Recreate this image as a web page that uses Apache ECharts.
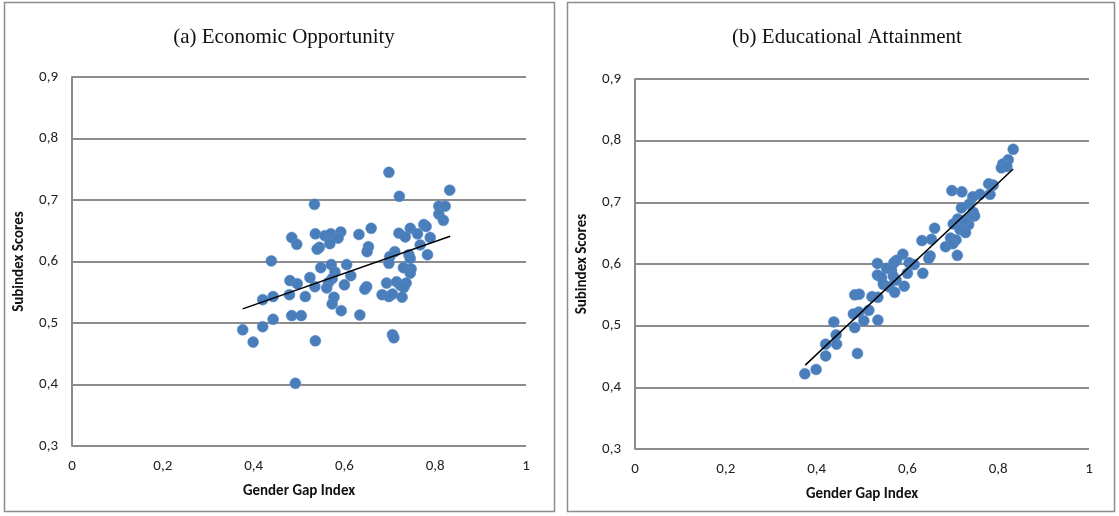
<!DOCTYPE html>
<html><head><meta charset="utf-8">
<script src="https://cdn.jsdelivr.net/npm/echarts@6/dist/echarts.min.js"></script>
<style>html,body{margin:0;padding:0;background:#fff}#c{width:1119px;height:516px}</style>
</head><body><div id="c"></div>
<script>
// (a) Economic Opportunity: [Gender Gap Index, Subindex Score]
const econPoints = [
[0.698,0.745],[0.721,0.706],[0.832,0.716],[0.534,0.693],[0.808,0.690],[0.822,0.690],[0.808,0.677],[0.818,0.667],
[0.775,0.660],[0.780,0.657],[0.745,0.654],[0.659,0.654],[0.720,0.646],[0.734,0.640],[0.761,0.645],[0.789,0.639],
[0.767,0.627],[0.783,0.611],[0.632,0.644],[0.484,0.639],[0.495,0.628],[0.536,0.645],[0.557,0.642],[0.570,0.645],
[0.592,0.648],[0.586,0.638],[0.568,0.629],[0.545,0.623],[0.540,0.620],[0.653,0.624],[0.650,0.616],[0.439,0.601],
[0.711,0.616],[0.700,0.608],[0.742,0.611],[0.745,0.605],[0.698,0.597],[0.571,0.595],[0.605,0.595],[0.548,0.590],
[0.579,0.583],[0.730,0.590],[0.747,0.588],[0.745,0.581],[0.614,0.577],[0.524,0.574],[0.573,0.572],[0.480,0.569],
[0.496,0.564],[0.565,0.566],[0.600,0.562],[0.693,0.565],[0.715,0.567],[0.736,0.565],[0.724,0.561],[0.731,0.558],
[0.535,0.559],[0.561,0.557],[0.649,0.559],[0.645,0.555],[0.420,0.538],[0.443,0.543],[0.479,0.546],[0.514,0.543],
[0.577,0.542],[0.683,0.546],[0.698,0.543],[0.706,0.547],[0.727,0.542],[0.573,0.531],[0.593,0.520],[0.634,0.513],
[0.443,0.506],[0.484,0.512],[0.505,0.512],[0.420,0.494],[0.376,0.489],[0.399,0.469],[0.536,0.471],[0.706,0.481],
[0.709,0.476],[0.492,0.402]
];
const econTrend = [[0.376,0.523],[0.833,0.641]];

// (b) Educational Attainment
const eduPoints = [
[0.833,0.786],[0.822,0.769],[0.810,0.762],[0.807,0.756],[0.819,0.758],[0.779,0.730],[0.789,0.728],[0.782,0.713],
[0.760,0.713],[0.698,0.719],[0.720,0.717],[0.744,0.709],[0.736,0.697],[0.719,0.691],[0.745,0.684],[0.748,0.678],
[0.736,0.675],[0.711,0.673],[0.701,0.665],[0.735,0.664],[0.716,0.656],[0.728,0.651],[0.660,0.658],[0.695,0.642],
[0.707,0.639],[0.653,0.640],[0.632,0.638],[0.684,0.628],[0.700,0.633],[0.710,0.614],[0.650,0.613],[0.647,0.609],
[0.590,0.616],[0.576,0.606],[0.570,0.602],[0.534,0.601],[0.604,0.602],[0.615,0.599],[0.554,0.593],[0.565,0.590],
[0.600,0.585],[0.634,0.585],[0.534,0.582],[0.543,0.578],[0.569,0.580],[0.547,0.567],[0.575,0.574],[0.593,0.564],
[0.560,0.563],[0.572,0.554],[0.484,0.550],[0.494,0.551],[0.522,0.547],[0.535,0.546],[0.515,0.525],[0.493,0.522],
[0.481,0.519],[0.504,0.508],[0.535,0.509],[0.438,0.506],[0.484,0.497],[0.443,0.485],[0.420,0.470],[0.444,0.470],
[0.420,0.451],[0.490,0.455],[0.399,0.429],[0.374,0.422],[0.725,0.670]
];
const eduTrend = [[0.375,0.436],[0.833,0.754]];

const xTicks = ['0','0,2','0,4','0,6','0,8','1'];
const yTicks = ['0,3','0,4','0,5','0,6','0,7','0,8','0,9'];

const fmt = v => String(Math.round(v*10)/10).replace('.', ',');
const gridColor = '#8c8c8c';
const tickFont = {fontFamily:'Carlito, Lato, "Liberation Sans", sans-serif', fontSize:15, color:'#222'};
const nameFont = {fontFamily:'Carlito, Lato, "Liberation Sans", sans-serif', fontSize:15, fontWeight:'bold', color:'#111'};

function xAxis(i){return {gridIndex:i,type:'value',min:0,max:1,interval:0.2,
  axisLine:{show:false},axisTick:{show:false},splitLine:{show:false},
  axisLabel:Object.assign({formatter:fmt,margin:13},tickFont),
  name:'Gender Gap Index',nameLocation:'middle',nameGap:38,nameTextStyle:nameFont};}
function yAxis(i){return {gridIndex:i,type:'value',min:0.3,max:0.9,interval:0.1,
  axisLine:{show:true,lineStyle:{color:gridColor,width:2}},axisTick:{show:false},
  splitLine:{show:true,lineStyle:{color:gridColor,width:2}},
  axisLabel:Object.assign({formatter:fmt,margin:14},tickFont),
  name:'Subindex Scores',nameLocation:'middle',nameGap:45,nameRotate:90,nameTextStyle:nameFont};}

const dotStyle = {color:'#4a7ebb',opacity:1,borderColor:'#5b8dc9',borderWidth:0.5};
const titleFont = {fontFamily:'"Liberation Serif", serif',fontSize:21,fontWeight:'normal',color:'#111'};
const chart = echarts.init(document.getElementById('c'));
chart.setOption({
  animation:false,
  backgroundColor:'#fff',
  title:[
    {text:'(a) Economic Opportunity',left:279,top:22,textAlign:'center',textStyle:titleFont},
    {text:'(b) Educational Attainment',left:842,top:22,textAlign:'center',textStyle:titleFont}
  ],
  graphic:[
    {type:'rect',shape:{x:4.5,y:2.5,width:550,height:509},style:{fill:'none',stroke:'#8c8c8c',lineWidth:1.5},silent:true},
    {type:'rect',shape:{x:567.5,y:2.5,width:547,height:509},style:{fill:'none',stroke:'#8c8c8c',lineWidth:1.5},silent:true}
  ],
  grid:[
    {left:72,right:1119-526,top:77,bottom:516-446},
    {left:635,right:1119-1089,top:79,bottom:516-449}
  ],
  xAxis:[xAxis(0),xAxis(1)],
  yAxis:[yAxis(0),yAxis(1)],
  series:[
    {type:'scatter',xAxisIndex:0,yAxisIndex:0,data:econPoints,symbolSize:11,itemStyle:dotStyle,z:3},
    {type:'line',xAxisIndex:0,yAxisIndex:0,data:econTrend,symbol:'none',lineStyle:{color:'#000',width:1.5},z:4},
    {type:'scatter',xAxisIndex:1,yAxisIndex:1,data:eduPoints,symbolSize:11,itemStyle:dotStyle,z:3},
    {type:'line',xAxisIndex:1,yAxisIndex:1,data:eduTrend,symbol:'none',lineStyle:{color:'#000',width:1.5},z:4}
  ]
});
</script></body></html>
